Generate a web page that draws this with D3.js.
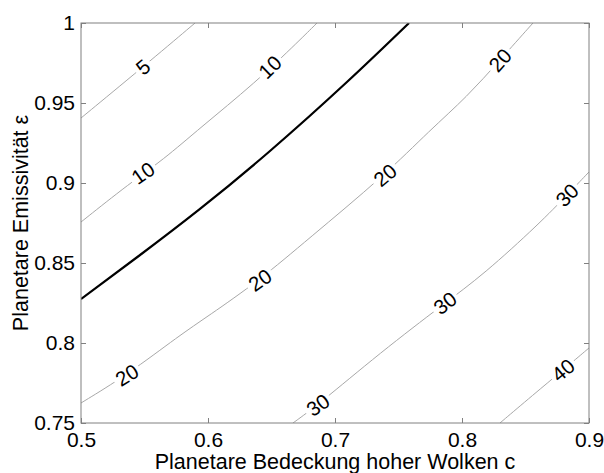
<!DOCTYPE html>
<html><head><meta charset="utf-8">
<script src="https://cdn.jsdelivr.net/npm/d3@7"></script>
<style>
body{margin:0;background:#fff}
text{font-family:"Liberation Sans",Arial,Helvetica,sans-serif}
</style>
</head><body>
<svg id="chart" width="604" height="473"></svg>
<script>
// ---- data (c = high-cloud cover, eps = planetary emissivity) ----
const contour5  = [[0.5,0.9406],[0.5488,0.9725],[0.5898,1.0]];
const contour10 = [[0.5,0.8756],[0.5386,0.9],[0.5646,0.9144],[0.5937,0.9344],[0.637,0.9625],[0.6724,0.9894],[0.6858,1.0]];
const contourThick = [[0.5,0.8275],[0.5465,0.855],[0.5937,0.8838],[0.6488,0.92],[0.7094,0.9631],[0.7583,1.0]];
const contour20 = [[0.5,0.7625],[0.5362,0.78],[0.578,0.805],[0.5992,0.8163],[0.6409,0.8394],[0.678,0.8644],[0.7394,0.905],[0.7748,0.9331],[0.8039,0.9538],[0.8299,0.9769],[0.8559,1.0]];
const contour30 = [[0.6669,0.75],[0.6866,0.7613],[0.7354,0.7938],[0.7866,0.825],[0.8165,0.8425],[0.8614,0.875],[0.8827,0.8925],[0.9,0.9069]];
const contour40 = [[0.8299,0.75],[0.8559,0.7675],[0.8795,0.7831],[0.9,0.7969]];
const contourLevels = [5,10,20,30,40];

const labelText = ["5","10","10","20","20","20","20","30","30","30","40"];
const labelC    = [0.5488,0.5488,0.6488,0.5362,0.6409,0.7394,0.8299,0.6866,0.7866,0.8827,0.8795];
const labelEps  = [0.9725,0.9063,0.9725,0.78,0.8394,0.905,0.9769,0.7613,0.825,0.8925,0.7831];

const xTickValues = [0.5,0.6,0.7,0.8,0.9];
const xTickLabels = ["0.5","0.6","0.7","0.8","0.9"];
const yTickValues = [0.75,0.8,0.85,0.9,0.95,1];
const yTickLabels = ["0.75","0.8","0.85","0.9","0.95","1"];

const xTitle = "Planetare Bedeckung hoher Wolken c";
const yTitle = "Planetare Emissivität ε";

// ---- drawing ----
const svg = d3.select("#chart");
const L=81, R=589, T=23, B=423;
const x = d3.scaleLinear().domain([0.5,0.9]).range([L,R]);
const y = d3.scaleLinear().domain([0.75,1]).range([B,T]);

svg.append("rect").attr("width",604).attr("height",473).attr("fill","#fff");
svg.append("clipPath").attr("id","clip").append("rect")
  .attr("x",L).attr("y",T).attr("width",R-L).attr("height",B-T);

const line = d3.line().x(d=>x(d[0])).y(d=>y(d[1])).curve(d3.curveBasis);
const plot = svg.append("g").attr("clip-path","url(#clip)");
const byLevel = {5:contour5,10:contour10,20:contour20,30:contour30,40:contour40};

contourLevels.forEach(v=>{
  plot.append("path").datum(byLevel[v]).attr("d",line)
    .attr("fill","none").attr("stroke","#a8a8a8").attr("stroke-width",1);
});
plot.append("path").datum(contourThick).attr("d",d3.line().x(d=>x(d[0])).y(d=>y(d[1])).curve(d3.curveNatural))
  .attr("fill","none").attr("stroke","#000").attr("stroke-width",2.2);

// contour labels
labelText.forEach((t,i)=>{
  const pts = byLevel[+t];
  const px = x(labelC[i]), py = y(labelEps[i]);
  let j = 0;
  for (let k=0;k<pts.length-1;k++){ if (x(pts[k][0])<=px && px<=x(pts[k+1][0])) { j=k; break; } }
  const a = Math.atan2(y(pts[j+1][1])-y(pts[j][1]), x(pts[j+1][0])-x(pts[j][0]))*180/Math.PI;
  const g = plot.append("g").attr("transform",`translate(${px},${py}) rotate(${a})`);
  const rect = g.append("rect").attr("fill","#fff");
  const tx = g.append("text").attr("text-anchor","middle").attr("dy","0.36em")
    .attr("font-size",20.5).attr("fill","#000").text(t);
  const w = tx.node().getBBox().width + 6;
  rect.attr("x",-w/2).attr("y",-7).attr("width",w).attr("height",14);
});

// axes
const axisColor = "#808080";
function styleAxis(g, showText){
  g.select(".domain").remove();
  g.selectAll(".tick line").attr("stroke",axisColor);
  g.selectAll(".tick text").attr("font-size",21).attr("fill","#000")
    .style("font-family",'"Liberation Sans",Arial,sans-serif');
  if(!showText) g.selectAll(".tick text").remove();
}
svg.append("g").attr("transform",`translate(0,${B})`)
  .call(d3.axisBottom(x).tickValues(xTickValues).tickFormat((d,i)=>xTickLabels[i]).tickSizeInner(-5).tickSizeOuter(0).tickPadding(9))
  .call(g=>styleAxis(g,true));
svg.append("g").attr("transform",`translate(0,${T})`)
  .call(d3.axisTop(x).tickValues(xTickValues).tickSizeInner(-5).tickSizeOuter(0))
  .call(g=>styleAxis(g,false));
svg.append("g").attr("transform",`translate(${L},0)`)
  .call(d3.axisLeft(y).tickValues(yTickValues).tickFormat((d,i)=>yTickLabels[i]).tickSizeInner(-5).tickSizeOuter(0).tickPadding(6))
  .call(g=>styleAxis(g,true));
svg.append("g").attr("transform",`translate(${R},0)`)
  .call(d3.axisRight(y).tickValues(yTickValues).tickSizeInner(-5).tickSizeOuter(0))
  .call(g=>styleAxis(g,false));

svg.append("rect").attr("x",L).attr("y",T).attr("width",R-L).attr("height",B-T)
  .attr("fill","none").attr("stroke",axisColor).attr("stroke-width",1);

svg.append("text").attr("x",(L+R)/2).attr("y",469).attr("text-anchor","middle")
  .attr("font-size",21.5).attr("fill","#000").text(xTitle);
svg.append("text").attr("transform",`translate(28,${(T+B)/2}) rotate(-90)`).attr("text-anchor","middle")
  .attr("font-size",21.5).attr("fill","#000").text(yTitle);
</script>
</body></html>
